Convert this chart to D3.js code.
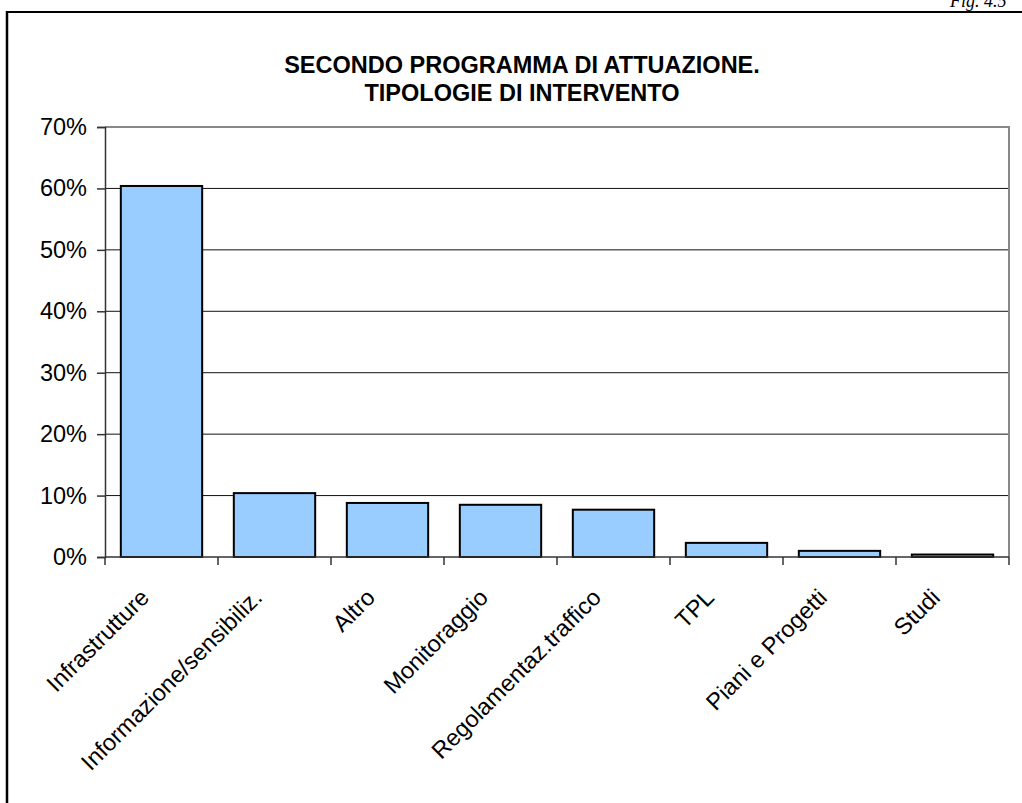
<!DOCTYPE html>
<html><head><meta charset="utf-8">
<script src="https://cdn.jsdelivr.net/npm/d3@7"></script>
<style>html,body{margin:0;padding:0;background:#fff;overflow:hidden}</style>
</head><body>
<svg id="c" width="1022" height="803"></svg>
<script>
const categories = ["Infrastrutture","Informazione/sensibiliz.","Altro","Monitoraggio","Regolamentaz.traffico","TPL","Piani e Progetti","Studi"];
const values = [0.604, 0.104, 0.088, 0.085, 0.077, 0.023, 0.010, 0.004];
const yTicks = [0,0.1,0.2,0.3,0.4,0.5,0.6,0.7];
const titleLines = ["SECONDO PROGRAMMA DI ATTUAZIONE.","TIPOLOGIE DI INTERVENTO"];

const svg = d3.select("#c");
const L=105, R=1009, T=127, B=557;
const x = d3.scaleBand().domain(categories).range([L,R]).paddingInner(0.28).paddingOuter(0.14);
const xb = d3.scaleBand().domain(categories).range([L,R]);
const y = d3.scaleLinear().domain([0,0.7]).range([B,T]);

// page frame
svg.append("line").attr("x1",7).attr("x2",1022).attr("y1",12).attr("y2",12).attr("stroke","#000").attr("stroke-width",2);
svg.append("line").attr("x1",7).attr("x2",7).attr("y1",11).attr("y2",803).attr("stroke","#000").attr("stroke-width",2.5);
svg.append("text").attr("x",950).attr("y",7).attr("font-family","Liberation Serif, serif").attr("font-style","italic").attr("font-size",18).text("Fig. 4.5");

// title
svg.append("g").selectAll("text").data(titleLines).join("text")
  .attr("x",522).attr("y",(d,i)=>73+i*28).attr("text-anchor","middle")
  .attr("font-family","Liberation Sans, Arial, sans-serif").attr("font-weight","bold").attr("font-size",23.5).text(d=>d);

// gridlines
svg.append("g").selectAll("line").data(yTicks.filter(t=>t>0 && t<0.7)).join("line")
  .attr("x1",L).attr("x2",R).attr("y1",d=>y(d)).attr("y2",d=>y(d)).attr("stroke","#111").attr("stroke-width",1);

// plot frame (top & right gray)
svg.append("path").attr("d",`M${L},${T}H${R}V${B}`).attr("fill","none").attr("stroke","#888").attr("stroke-width",2);

// bars
svg.append("g").selectAll("rect").data(values).join("rect")
  .attr("x",(d,i)=>x(categories[i])).attr("width",x.bandwidth())
  .attr("y",d=>y(d)).attr("height",d=>B-y(d))
  .attr("fill","#99ccff").attr("stroke","#000").attr("stroke-width",2);

// y axis
const ya = d3.axisLeft(y).tickValues(yTicks).tickFormat(d3.format(".0%")).tickSize(8).tickPadding(10);
const gy = svg.append("g").attr("transform",`translate(${L},0)`).call(ya);
gy.select(".domain").attr("stroke","#333").attr("stroke-width",1.5);
gy.selectAll(".tick line").attr("stroke","#333").attr("stroke-width",1.5);
gy.selectAll("text").attr("font-family","Liberation Sans, Arial, sans-serif").attr("font-size",23.5).attr("fill","#000");

// x axis line and ticks at band boundaries
svg.append("line").attr("x1",L).attr("x2",R).attr("y1",B).attr("y2",B).attr("stroke","#333").attr("stroke-width",1.5);
const bounds = categories.map(c=>xb(c)).concat([R]);
svg.append("g").selectAll("line").data(bounds).join("line")
  .attr("x1",d=>d).attr("x2",d=>d).attr("y1",B).attr("y2",B+8).attr("stroke","#333").attr("stroke-width",1.5);

// category labels
svg.append("g").selectAll("text").data(categories).join("text")
  .attr("transform",d=>`translate(${xb(d)+xb.bandwidth()/2-11},${B+42}) rotate(-45)`)
  .attr("text-anchor","end")
  .attr("font-family","Liberation Sans, Arial, sans-serif").attr("font-size",23.5).attr("fill","#000").text(d=>d);
</script>
</body></html>
